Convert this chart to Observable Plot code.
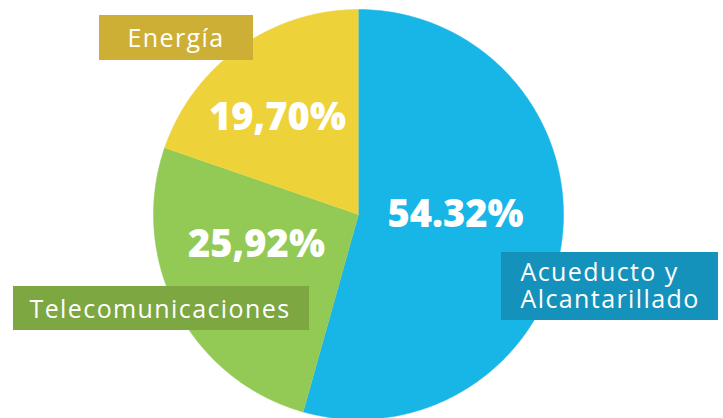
<!DOCTYPE html>
<html><head><meta charset="utf-8">
<script src="https://cdn.jsdelivr.net/npm/d3@7"></script>
<script src="https://cdn.jsdelivr.net/npm/@observablehq/plot@0.6"></script>
<style>html,body{margin:0;padding:0;background:#fff;overflow:hidden}
g[font-size="25"] text{letter-spacing:1.4px}</style>
</head><body><div id="chart"></div>
<script>
const categories = ["Acueducto y Alcantarillado", "Telecomunicaciones", "Energía"];
const shares = [54.32, 25.92, 19.70];
const valueLabels = ["54.32%", "25,92%", "19,70%"];
const boxLabels = ["Acueducto y\nAlcantarillado", "Telecomunicaciones", "Energía"];
const sliceColors = ["#18B5E7", "#93C955", "#EDD23A"];
const boxColors = ["#1592BB", "#7CA741", "#CDAF36"];

// layout (pixels)
const W = 723, H = 418;
const cx = 358, cy = 214, R = 205;
const valuePos = [[455, 226], [256, 256], [277, 129]];
const boxPos = [
  {x1: 501, x2: 718, y1: 252, y2: 320, tx: 520, ty: 307},
  {x1: 13, x2: 309, y1: 286, y2: 330, tx: 29, ty: 317},
  {x1: 99, x2: 253, y1: 15, y2: 60, tx: 127, ty: 46}
];

const arcs = d3.pie().sort(null).value(d => d)(shares);
const polys = [];
arcs.forEach((a, i) => {
  polys.push({k: i, x: cx, y: cy});
  const n = Math.max(2, Math.ceil((a.endAngle - a.startAngle) / (Math.PI / 360)));
  for (let j = 0; j <= n; j++) {
    const t = a.startAngle + (a.endAngle - a.startAngle) * j / n;
    polys.push({k: i, x: cx + R * Math.sin(t), y: cy - R * Math.cos(t)});
  }
});

const boxes = categories.map((c, i) => ({i, text: boxLabels[i], ...boxPos[i]}));
const vals = valueLabels.map((t, i) => ({i, text: t, x: valuePos[i][0], y: valuePos[i][1]}));

const chart = Plot.plot({
  width: W, height: H, margin: 0,
  x: {domain: [0, W], range: [0, W], axis: null},
  y: {domain: [0, H], range: [0, H], axis: null},
  style: {background: "#fff"},
  marks: [
    Plot.line(polys, {x: "x", y: "y", z: "k", fill: d => sliceColors[d.k], stroke: d => sliceColors[d.k], strokeWidth: 0.5}),
    Plot.text(vals, {x: "x", y: "y", text: "text", fill: "#fff", fontSize: 38, fontWeight: 800, fontFamily: "Open Sans", lineAnchor: "bottom", textAnchor: "middle"}),
    Plot.rect(boxes, {x1: "x1", x2: "x2", y1: "y1", y2: "y2", fill: d => boxColors[d.i]}),
    Plot.text(boxes, {x: "tx", y: "ty", text: "text", fill: "#fff", fontSize: 25, lineHeight: 1.08, fontWeight: 400, fontFamily: "Open Sans", lineAnchor: "bottom", textAnchor: "start"})
  ]
});
document.getElementById("chart").appendChild(chart);
</script></body></html>
